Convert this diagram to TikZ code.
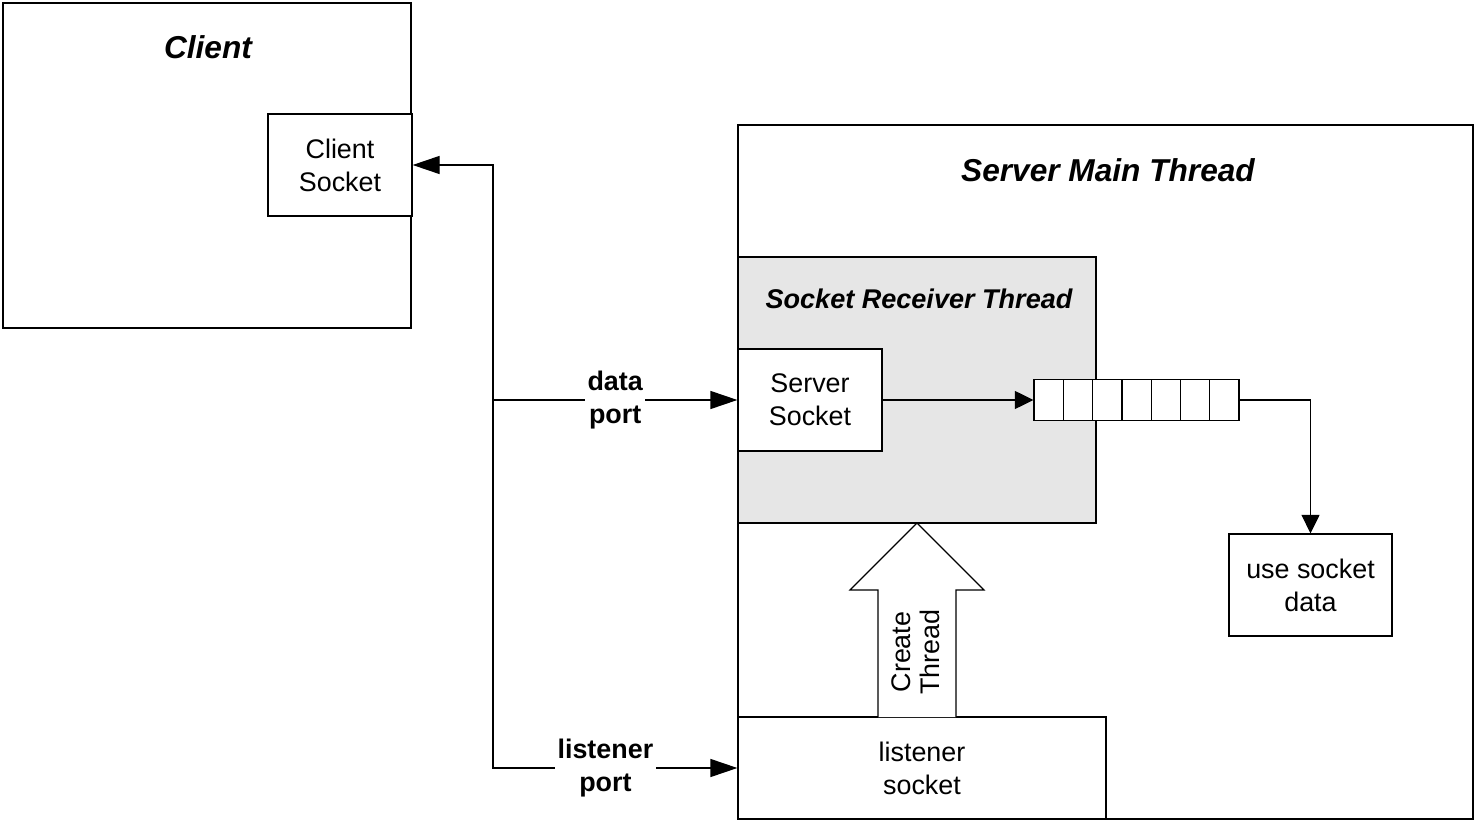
\documentclass[tikz,border=0pt]{standalone}
\usepackage{fontspec}
\setmainfont{Liberation Sans}
\usetikzlibrary{arrows.meta,positioning}
\definecolor{recvgray}{HTML}{E6E6E6}

\begin{document}
\begin{tikzpicture}[x=0.2mm,y=-0.2mm,line width=0.7pt,
	box/.style={draw,fill=white,align=center,inner sep=0pt,font=\fontsize{15.3}{18.7}\selectfont},
	title/.style={font=\fontsize{18}{22}\selectfont\bfseries\itshape},
	portlabel/.style={fill=white,inner sep=1.5pt,align=center,font=\fontsize{15.3}{18.7}\selectfont\bfseries},
	bigtip/.style={-{Triangle[length=5.4mm,width=3.6mm]}},
	smalltip/.style={-{Triangle[length=3.7mm,width=3.6mm]}}]
	\useasboundingbox (0,0) rectangle (1474,820);
	% the client side
	\node[draw,minimum width=81.6mm,minimum height=65mm] (client) at (207,165.5) {};
	\node[title] (clienttitle) at (208,47) {Client};
	\node[box,minimum width=28.8mm,minimum height=20.4mm] (csock) at (340,165) {Client\\Socket};
	% the server side
	\node[draw,minimum width=147mm,minimum height=138.8mm] (main) at (1105.5,472) {};
	\node[title] (maintitle) at (1108,170) {Server Main Thread};
	\node[draw,fill=recvgray,minimum width=71.6mm,minimum height=53.2mm] (recv) at (917,390) {};
	\node[font=\fontsize{15.4}{18}\selectfont\bfseries\itshape] (recvtitle) at (919,299) {Socket Receiver Thread};
	\node[box,minimum width=28.8mm,minimum height=20.4mm] (ssock) at (810,400) {Server\\Socket};
	\foreach \i in {1,...,7}
		\node[draw,fill=white,inner sep=0pt,minimum width=5.857mm,minimum height=8.2mm] (q\i) at ({1034+29.29*(\i-0.5)},400) {};
	\node[box,minimum width=32.6mm,minimum height=20.4mm] (use) at (1310.5,585) {use socket\\data};
	\node[box,minimum width=73.6mm,minimum height=20.4mm] (listen) at (922,768) {listener\\socket};
	%% the create thread arrow
	\draw[fill=white] (878,717) -- (878,590) -- (850,590) -- (917,523) -- (984,590) -- (956,590) -- (956,717);
	\node[rotate=90,align=center,font=\fontsize{15.3}{16.5}\selectfont] (create) at (916,652) {Create\\Thread};
	%% the connections
	\coordinate (split) at (493,400);
	\draw[bigtip] (split) |- (csock.east);
	\draw[bigtip] (split) -- node[portlabel] (dataport) {data\\port} (ssock.west);
	\draw[bigtip] (split) |- node[portlabel,pos=0.73] (listenport) {listener\\port} (listen.west);
	\draw[smalltip] (ssock.east) -- (q1.west);
	\draw[smalltip] (q7.east) -| (use.north);
\end{tikzpicture}
\end{document}
